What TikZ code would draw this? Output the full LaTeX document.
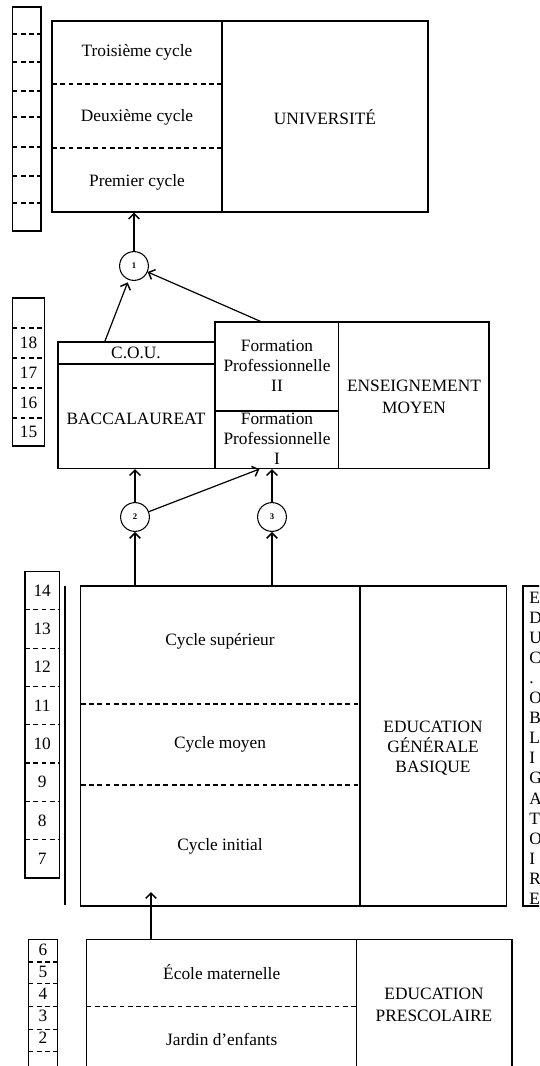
\documentclass[tikz,border=0pt]{standalone}
\usepackage{fontspec}
\setmainfont{Liberation Serif}
\usetikzlibrary{arrows.meta,fit,calc}
\begin{document}
\begin{tikzpicture}[x=0.75pt,y=-0.75pt,
  box/.style={draw,line width=0.9pt,inner sep=0pt},
  dsh/.style={line width=0.8pt,dash pattern=on 3.6pt off 2.6pt},
  lbl/.style={font=\fontsize{13}{15}\selectfont,align=center,inner sep=0pt},
  num/.style={font=\fontsize{13}{14}\selectfont,inner sep=0pt},
  circ/.style={draw,circle,line width=0.8pt,minimum size=21.6pt,inner sep=0pt,font=\fontsize{6.5}{7}\selectfont\bfseries},
  arr/.style={line width=0.9pt,-{Straight Barb[length=4pt,width=8pt,line width=1.1pt]}}]
\useasboundingbox (0,0) rectangle (539,1066);
\clip (0,0) rectangle (539,1066);

% ---------- University ----------
\node[box,fit={(12.5,7)(41,231)}] (ageA) {};
\foreach \y in {34,62,91,117,147,176,203} \draw[dsh] (12.5,\y) -- (41,\y);
\node[box,fit={(52,21)(222,212)}] (univL) {};
\node[box,fit={(222,21)(428,212)}] (univR) {};
\draw[dsh] (52,84) -- (222,84);
\draw[dsh] (52,148) -- (222,148);
\node[lbl] at (137,52) {Troisième cycle};
\node[lbl] at (137,117) {Deuxième cycle};
\node[lbl] at (137,182) {Premier cycle};
\node[lbl] at (325,117) {UNIVERSITÉ};

\node[circ] (c1) at (134,266) {1};

% ---------- Enseignement moyen ----------
\node[box,fit={(12.4,298)(44.7,446)}] (ageB) {};
\foreach \y in {328,358,388,418} \draw[dsh] (12.4,\y) -- (44.7,\y);
\foreach \n/\y in {18/343,17/373,16/403,15/432} \node[num] at (28.5,\y) {\n};
\node[box,fit={(58,342)(215,364)}] (cou) {};
\node[box,fit={(58,364)(215,468.5)}] (bacc) {};
\node[box,fit={(215,322)(338.6,411)}] (fp2) {};
\node[box,fit={(215,411)(338.6,468.5)}] (fp1) {};
\node[box,fit={(338.6,322)(489,468.5)}] (em) {};
\node[lbl] at (136,353) {C.O.U.};
\node[lbl] at (136,419) {BACCALAUREAT};
\node[lbl] at (277,366) {Formation\\Professionnelle\\II};
\node[lbl] at (277,439) {Formation\\Professionnelle\\I};
\node[lbl,font=\fontsize{13}{16}\selectfont] at (414,397) {ENSEIGNEMENT\\MOYEN};

\draw[arr,shorten >=2pt] ($(cou.north west)!0.3!(cou.north east)$) -- (c1);
\draw[arr] ($(fp2.north west)!0.37!(fp2.north east)$) -- (c1);
\draw[arr] (c1.north) -- (c1.north |- univL.south);

\node[circ] (c2) at (135,517) {2};
\node[circ] (c3) at (272,517) {3};
\draw[arr] (c2.north) -- (c2.north |- bacc.south);
\draw[arr] (c2) -- ($(fp1.south west)!0.36!(fp1.south east)$);
\draw[arr] (c3.north) -- (c3.north |- fp1.south);

% ---------- EGB ----------
\node[box,fit={(25,571.5)(59.4,878)}] (ageC) {};
\foreach \k in {0,...,6} \draw[dsh] (25,609.8+38.3*\k) -- (59.4,609.8+38.3*\k);
\foreach \n [count=\k from 0] in {14,13,12,11,10,9,8,7} \node[num] at (42.2,590.6+38.3*\k) {\n};
\draw[line width=0.9pt] (65,586) -- (65,905);
\node[box,fit={(80.8,586)(360,906)}] (egbL) {};
\node[box,fit={(360,586)(506.4,906)}] (egbR) {};
\draw[dsh] (80.8,704) -- (360,704);
\draw[dsh] (80.8,785) -- (360,785);
\node[lbl] at (220,641) {Cycle supérieur};
\node[lbl] at (220,744) {Cycle moyen};
\node[lbl] at (220,846) {Cycle initial};
\node[lbl,font=\fontsize{13}{15.2}\selectfont] at (433,748) {EDUCATION\\GÉNÉRALE\\BASIQUE};
\draw[arr] (c2.south |- egbL.north) -- (c2.south);
\draw[arr] (c3.south |- egbL.north) -- (c3.south);

\node[box,fit={(523,586)(570,906)}] (oblig) {};
\foreach \c [count=\i from 0] in {E,D,U,C,.,O,B,L,I,G,A,T,O,I,R,E}
  \node[num,anchor=base west] at (529,603+20.1*\i) {\c};

% ---------- Prescolaire ----------
\node[box,fit={(28.5,939.5)(57.8,1090)}] (ageD) {};
\foreach \y in {962,983.5,1006.6,1029.3,1051.3} \draw[dsh] (28.5,\y) -- (57.8,\y);
\foreach \n/\y in {6/950,5/972,4/994,3/1016,2/1038} \node[num] at (43,\y) {\n};
\node[box,fit={(86.6,939.5)(356.5,1090)}] (presL) {};
\node[box,fit={(356.5,939.5)(512,1090)}] (presR) {};
\draw[dsh] (86.6,1006.6) -- (356.5,1006.6);
\node[lbl] at (221.7,972) {École maternelle};
\node[lbl] at (221.7,1039) {Jardin d’enfants};
\node[lbl,font=\fontsize{13}{16}\selectfont] at (434,1005) {EDUCATION\\PRESCOLAIRE};
\coordinate (pa) at (151,892);
\draw[arr] (pa |- presL.north) -- (pa);
\end{tikzpicture}
\end{document}
